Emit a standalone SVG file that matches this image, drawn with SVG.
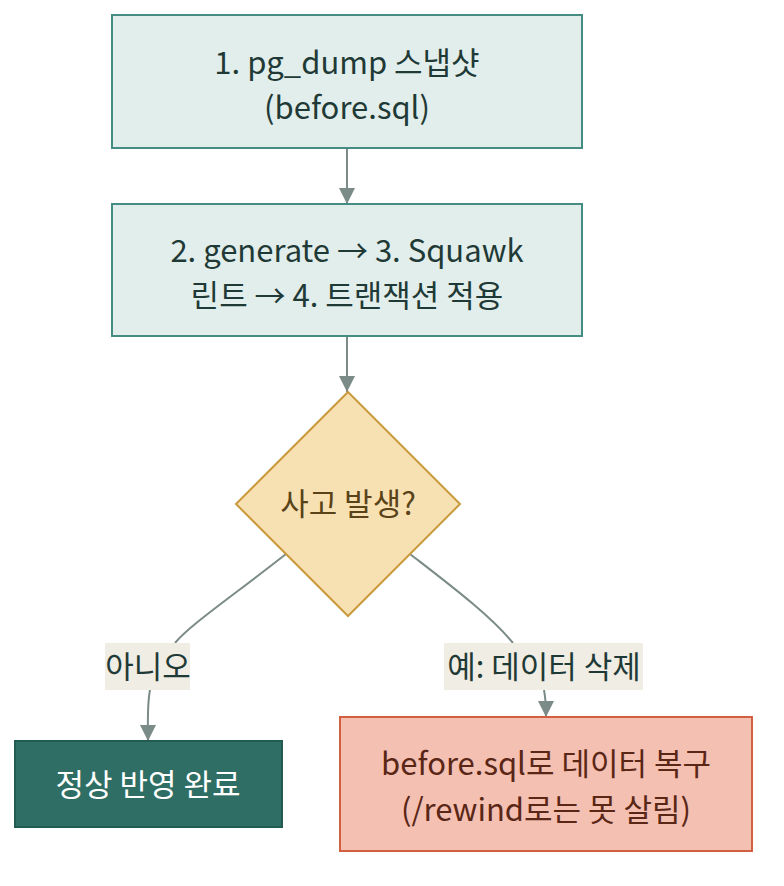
<svg xmlns="http://www.w3.org/2000/svg" width="784" height="886" viewBox="0 0 784 886">
<style>
text{font-family:"Noto Sans CJK KR","Noto Sans",sans-serif;font-size:31px;text-anchor:middle;}
.box{fill:#e2eeeb;stroke:#458c82;stroke-width:2;}
.t{fill:#1f3a36;}
.edge{fill:none;stroke:#7b8b88;stroke-width:2;}
.lbl{fill:#efede4;}
</style>
<defs>
<marker id="ah" viewBox="0 0 10 10" refX="10" refY="5" markerWidth="16" markerHeight="16" markerUnits="userSpaceOnUse" orient="auto">
<path d="M0,0 L10,5 L0,10 z" fill="#7b8b88"/>
</marker>
</defs>
<g id="connectors">
<path class="edge" d="M347,148 L347,204" marker-end="url(#ah)"/>
<path class="edge" d="M347,336 L347,392" marker-end="url(#ah)"/>
<path class="edge" d="M286,554 C230,598 190,625 175,643"/>
<path class="edge" d="M150,690 C147,705 148,722 148,741" marker-end="url(#ah)"/>
<path class="edge" d="M410,554 C450,585 490,615 513,643"/>
<path class="edge" d="M544,690 C546,700 546,708 546,717" marker-end="url(#ah)"/>
</g>
<g id="n1">
<rect class="box" x="112" y="15" width="470" height="133"/>
<text class="t" x="347" y="74">1. pg_dump 스냅샷</text>
<text class="t" x="347" y="119">(before.sql)</text>
</g>
<g id="n2">
<rect class="box" x="112" y="204" width="470" height="132"/>
<text class="t" x="347" y="262">2. generate → 3. Squawk</text>
<text class="t" x="347" y="307">린트 → 4. 트랜잭션 적용</text>
</g>
<g id="n3">
<polygon points="348,392 460,504 348,616 236,504" fill="#f7e1b3" stroke="#c99a3e" stroke-width="2"/>
<text x="348" y="515" fill="#5a4318">사고 발생?</text>
</g>
<g id="l1">
<rect class="lbl" x="105" y="643" width="85" height="47"/>
<text class="t" x="148" y="678">아니오</text>
</g>
<g id="l2">
<rect class="lbl" x="444" y="643" width="199" height="47"/>
<text class="t" x="544" y="678">예: 데이터 삭제</text>
</g>
<g id="n4">
<rect x="15" y="741" width="267" height="86" fill="#2f6e64" stroke="#235a52" stroke-width="2"/>
<text x="148" y="796" fill="#ffffff">정상 반영 완료</text>
</g>
<g id="n5">
<rect x="340" y="717" width="412" height="134" fill="#f4c0b2" stroke="#d0603f" stroke-width="2"/>
<text x="546" y="775" fill="#5a2616">before.sql로 데이터 복구</text>
<text x="546" y="821" fill="#5a2616">(/rewind로는 못 살림)</text>
</g>
</svg>
